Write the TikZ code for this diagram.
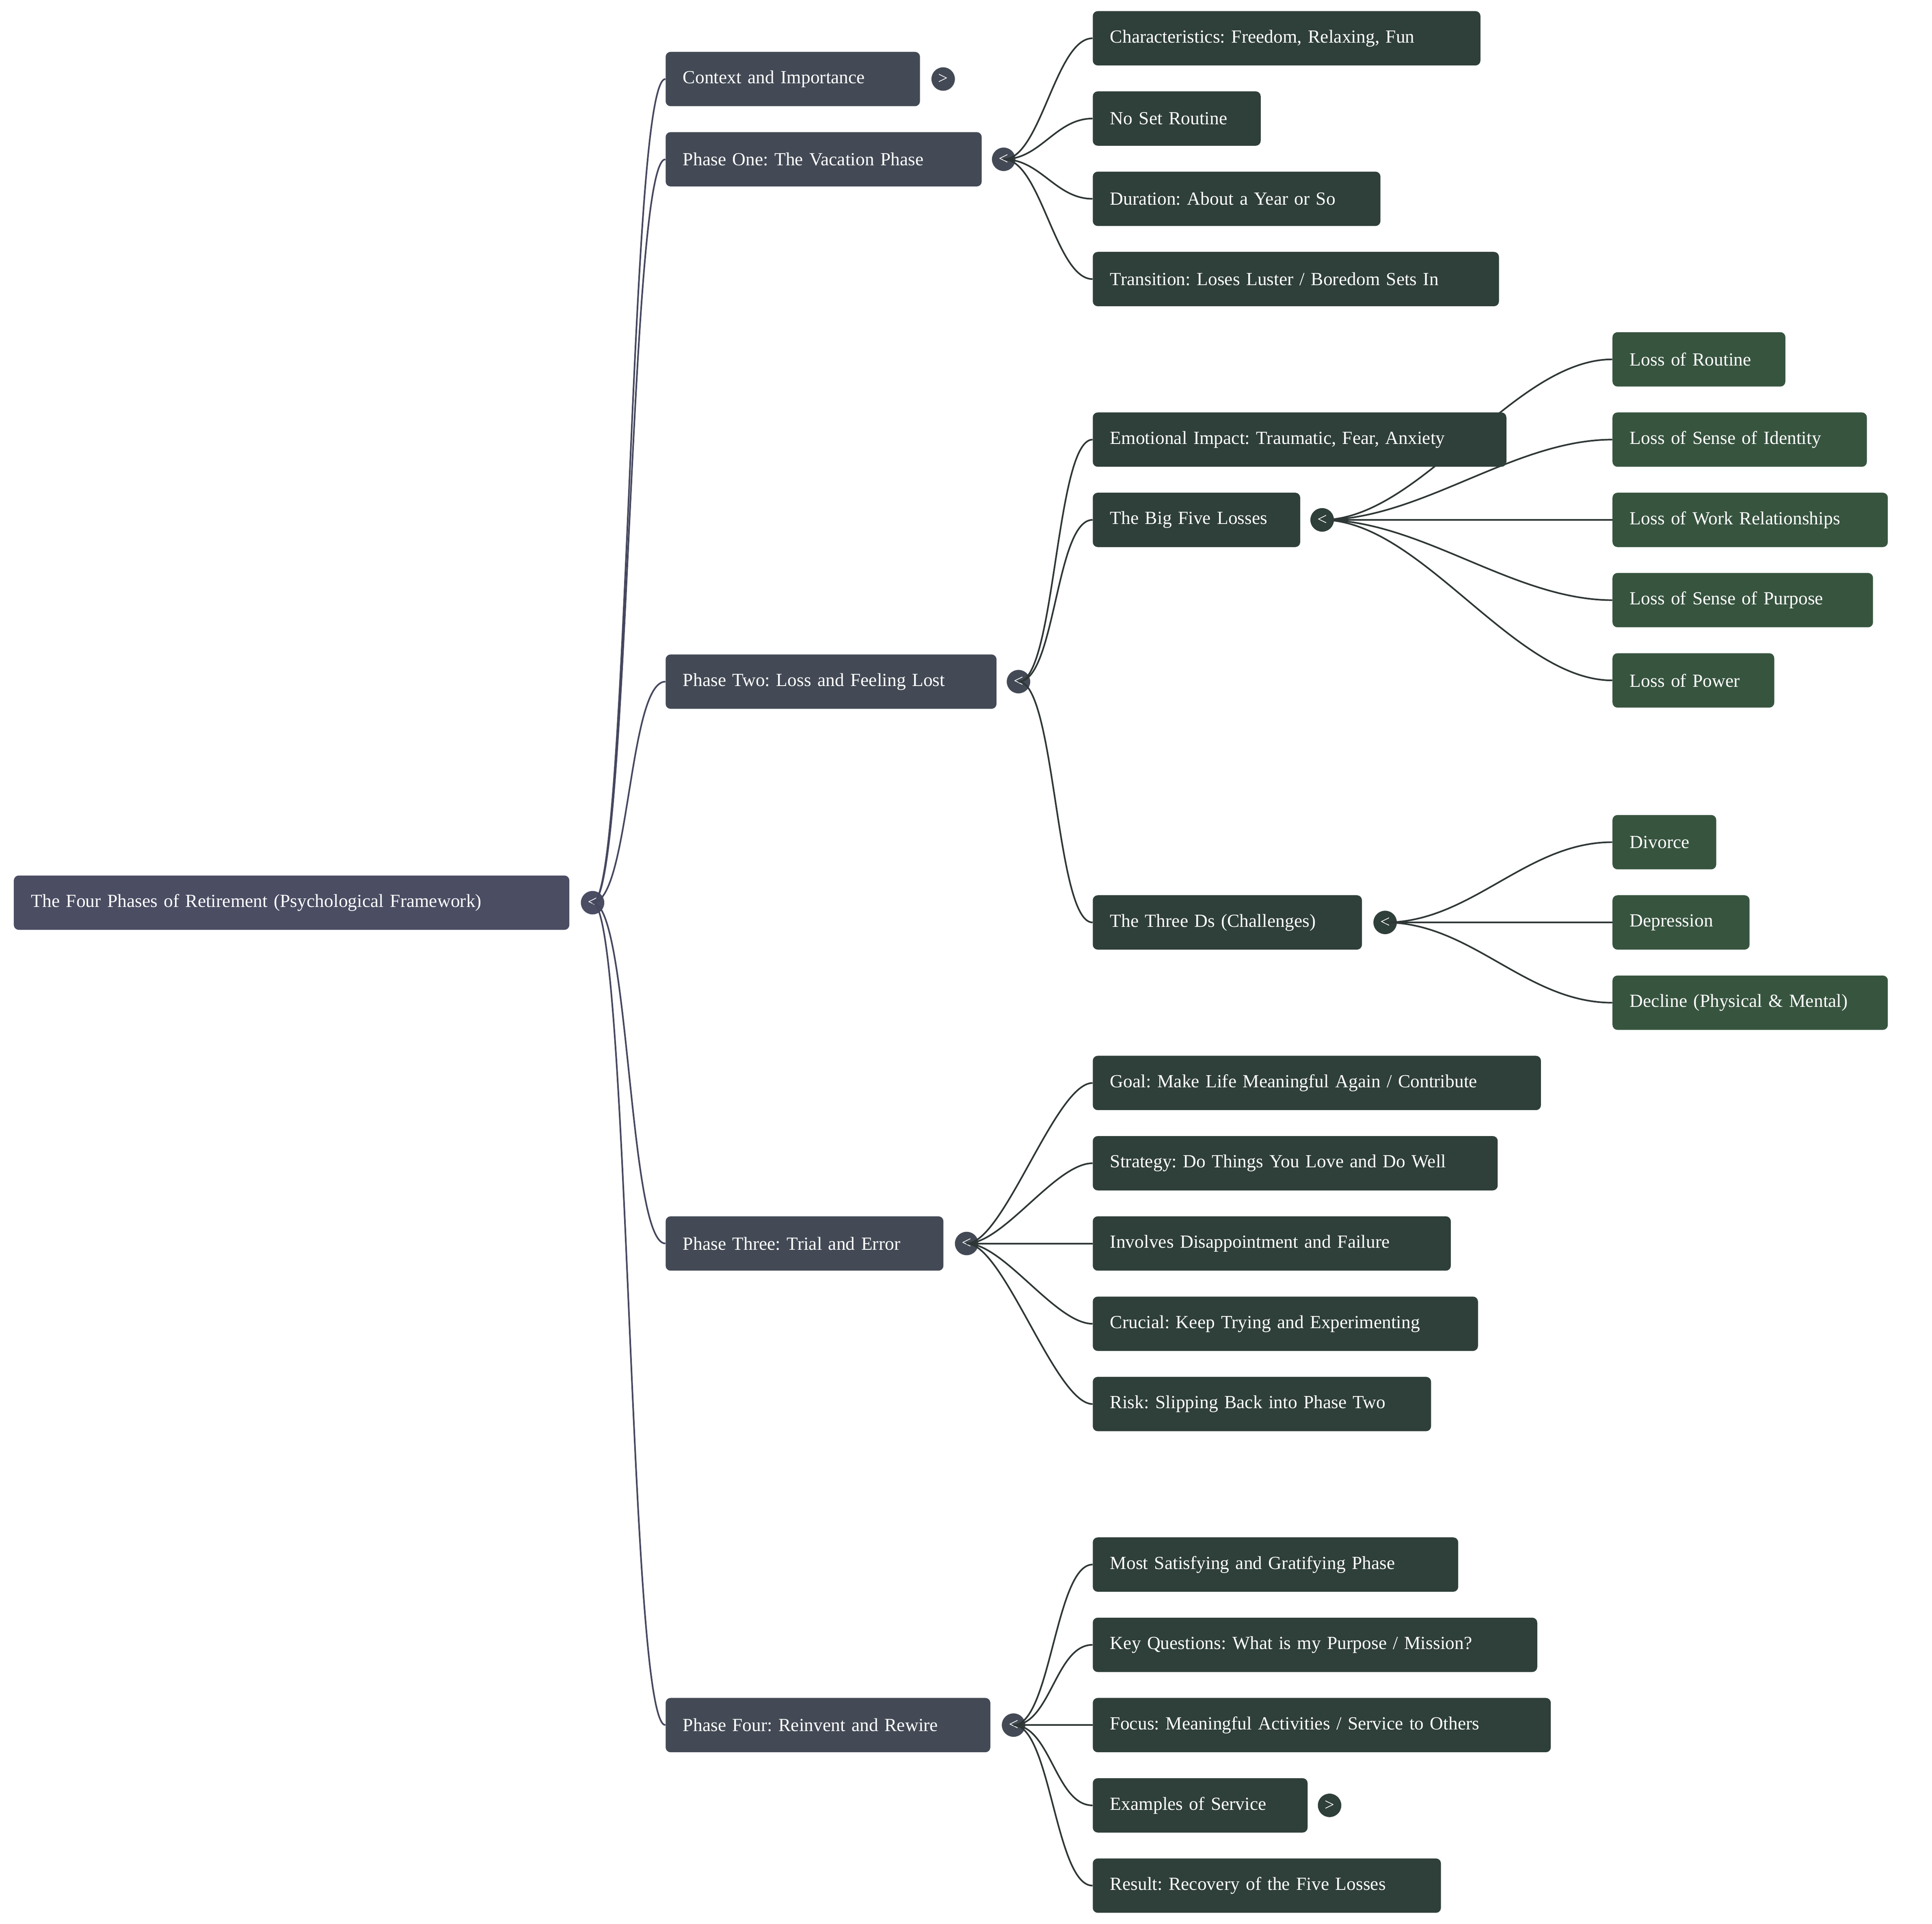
\documentclass[tikz,border=0pt]{standalone}
\usepackage{fontspec}
\setmainfont{Liberation Serif}
\frenchspacing
\definecolor{c0}{HTML}{4B4D63}
\definecolor{c1}{HTML}{434A55}
\definecolor{c2}{HTML}{2F3F3A}
\definecolor{c3}{HTML}{37543F}
\definecolor{e1}{HTML}{45475E}
\definecolor{e2}{HTML}{2E3636}
\begin{document}
\begin{tikzpicture}[x=1pt,y=-1pt,
 box/.style={rectangle,rounded corners=4pt,minimum height=44pt,inner xsep=14pt,inner ysep=0pt,anchor=west,align=left,text=white,font=\fontsize{15}{18}\selectfont},
 r0/.style={box,fill=c0},r1/.style={box,fill=c1},r2/.style={box,fill=c2},r3/.style={box,fill=c3},
 dot/.style={circle,minimum size=19pt,inner sep=0pt,text=white,font=\fontsize{14}{14}\selectfont},
 l1/.style={draw=e1,line width=1.3pt},l2/.style={draw=e2,line width=1.3pt}]
\useasboundingbox (0,0) rectangle (1565,1558);
\newcommand\bx[6]{\node[#6,text width={#3-#2-28pt}] (#1) at (#2,#4) {#5};}
% root
\bx{root}{11}{461}{731}{The Four Phases of Retirement (Psychological Framework)}{r0}
\node[dot,fill=c0] (d0) at (480,731) {<};
% level 1
\bx{ctx}{539}{745}{64}{Context and Importance}{r1}
\bx{p1}{539}{795}{129}{Phase One: The Vacation Phase}{r1}
\bx{p2}{539}{807}{552}{Phase Two: Loss and Feeling Lost}{r1}
\bx{p3}{539}{764}{1007}{Phase Three: Trial and Error}{r1}
\bx{p4}{539}{802}{1397}{Phase Four: Reinvent and Rewire}{r1}
\node[dot,fill=c1] (dctx) at (764,64) {>};
\node[dot,fill=c1] (dp1) at (813,129) {<};
\node[dot,fill=c1] (dp2) at (825,552) {<};
\node[dot,fill=c1] (dp3) at (783,1007) {<};
\node[dot,fill=c1] (dp4) at (821,1397) {<};
\foreach \n in {ctx,p1,p2,p3,p4} {\draw[l1] (d0.center) .. controls +(30,0) and +(-30,0) .. (\n.west);}
% level 2
\bx{a1}{885}{1199}{31}{Characteristics: Freedom, Relaxing, Fun}{r2}
\bx{a2}{885}{1021}{96}{No Set Routine}{r2}
\bx{a3}{885}{1118}{161}{Duration: About a Year or So}{r2}
\bx{a4}{885}{1214}{226}{Transition: Loses Luster / Boredom Sets In}{r2}
\bx{b2}{885}{1053}{421}{The Big Five Losses}{r2}
\bx{b3}{885}{1103}{747}{The Three Ds (Challenges)}{r2}
\bx{c1}{885}{1248}{877}{Goal: Make Life Meaningful Again / Contribute}{r2}
\bx{c2}{885}{1213}{942}{Strategy: Do Things You Love and Do Well}{r2}
\bx{c3}{885}{1175}{1007}{Involves Disappointment and Failure}{r2}
\bx{c4}{885}{1197}{1072}{Crucial: Keep Trying and Experimenting}{r2}
\bx{c5}{885}{1159}{1137}{Risk: Slipping Back into Phase Two}{r2}
\bx{f1}{885}{1181}{1267}{Most Satisfying and Gratifying Phase}{r2}
\bx{f2}{885}{1245}{1332}{Key Questions: What is my Purpose / Mission?}{r2}
\bx{f3}{885}{1256}{1397}{Focus: Meaningful Activities / Service to Others}{r2}
\bx{f4}{885}{1059}{1462}{Examples of Service}{r2}
\bx{f5}{885}{1167}{1527}{Result: Recovery of the Five Losses}{r2}
\node[dot,fill=c2] (db2) at (1071,421) {<};
\node[dot,fill=c2] (db3) at (1122,747) {<};
\node[dot,fill=c2] (df4) at (1077,1462) {>};
% level 3
\bx{g1}{1306}{1446}{291}{Loss of Routine}{r3}
\bx{g2}{1306}{1512}{356}{Loss of Sense of Identity}{r3}
\bx{g3}{1306}{1529}{421}{Loss of Work Relationships}{r3}
\bx{g4}{1306}{1517}{486}{Loss of Sense of Purpose}{r3}
\bx{g5}{1306}{1437}{551}{Loss of Power}{r3}
\bx{h1}{1306}{1390}{682}{Divorce}{r3}
\bx{h2}{1306}{1417}{747}{Depression}{r3}
\bx{h3}{1306}{1529}{812}{Decline (Physical \& Mental)}{r3}
\foreach \n in {g1,g2,g3,g4,g5} {\draw[l2] (db2.center) .. controls +(80,0) and +(-80,0) .. (\n.west);}
\foreach \n in {h1,h2,h3} {\draw[l2] (db3.center) .. controls +(70,0) and +(-70,0) .. (\n.west);}
\node[dot,fill=c2] at (1071,421) {<};
% Emotional Impact box drawn over the crossing edges
\bx{b1}{885}{1220}{356}{Emotional Impact: Traumatic, Fear, Anxiety}{r2}
\foreach \n in {a1,a2,a3,a4} {\draw[l2] (dp1.center) .. controls +(30,0) and +(-30,0) .. (\n.west);}
\foreach \n in {b1,b2,b3} {\draw[l2] (dp2.center) .. controls +(30,0) and +(-30,0) .. (\n.west);}
\foreach \n in {c1,c2,c3,c4,c5} {\draw[l2] (dp3.center) .. controls +(30,0) and +(-30,0) .. (\n.west);}
\foreach \n in {f1,f2,f3,f4,f5} {\draw[l2] (dp4.center) .. controls +(30,0) and +(-30,0) .. (\n.west);}
\end{tikzpicture}
\end{document}
